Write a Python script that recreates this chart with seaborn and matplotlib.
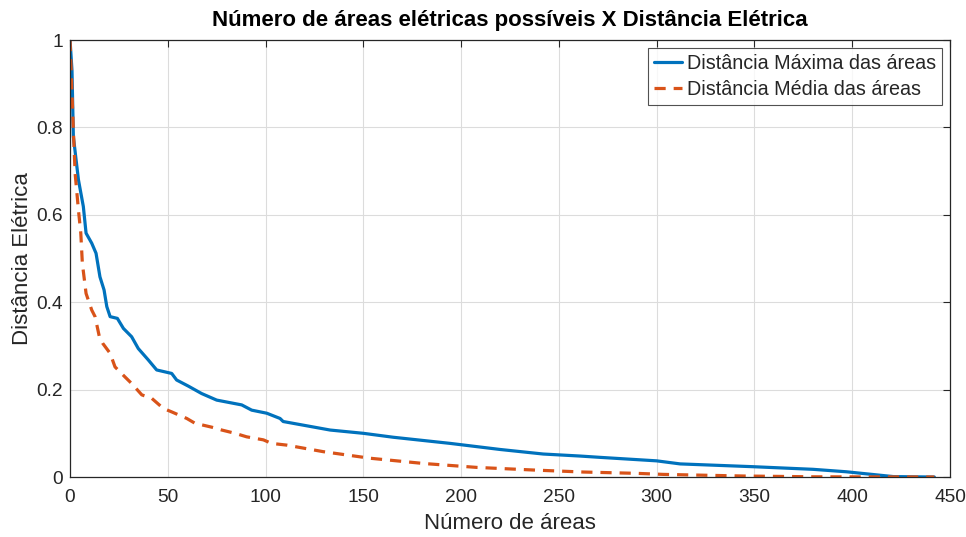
import matplotlib
matplotlib.use("Agg")
import matplotlib.pyplot as plt
import seaborn as sns
import pandas as pd

# Distância Máxima das áreas
x_max = [0, 1, 1.7, 4.3, 6.8, 8.2, 11.1, 13.3, 15.3, 17.4, 18.8, 20.5, 24.2, 27.3, 31.5,
         34.9, 40, 44.3, 52, 54.5, 60.5, 67.3, 75, 87.8, 92.9, 100.6, 107.4, 109, 133,
         150, 165.3, 194.3, 220, 242, 260.8, 271, 300, 312, 349.4, 380, 397, 421, 442]
y_max = [1.0, 0.93, 0.779, 0.68, 0.619, 0.558, 0.535, 0.512, 0.458, 0.428, 0.39, 0.367,
         0.363, 0.34, 0.321, 0.294, 0.268, 0.245, 0.237, 0.222, 0.208, 0.191, 0.176, 0.165,
         0.153, 0.146, 0.134, 0.127, 0.1075, 0.1, 0.091, 0.077, 0.063, 0.0526, 0.048, 0.045,
         0.037, 0.030, 0.0236, 0.0176, 0.012, 0.001, 0.0]

# Distância Média das áreas
x_med = [0, 1.7, 2.6, 4.3, 5.5, 6.3, 8.2, 11.1, 12.8, 15, 16.7, 20.5, 23, 28.1, 31.5, 36.7,
         41.8, 47.7, 52, 59.7, 63.9, 72.5, 77.6, 84.4, 90.3, 98.9, 103, 110.8, 129.5, 153.4,
         180.7, 208, 237, 262.5, 289.8, 303.4, 344.3, 380, 442]
y_med = [1.0, 0.794, 0.695, 0.611, 0.558, 0.489, 0.42, 0.382, 0.367, 0.321, 0.306, 0.283,
         0.252, 0.229, 0.214, 0.188, 0.18, 0.157, 0.149, 0.134, 0.123, 0.114, 0.1075, 0.1,
         0.092, 0.085, 0.077, 0.073, 0.058, 0.043, 0.031, 0.022, 0.016, 0.0114, 0.0084,
         0.006, 0.0023, 0.0005, 0.0]

x_ticks = [0, 50, 100, 150, 200, 250, 300, 350, 400, 450]
y_ticks = [0, 0.2, 0.4, 0.6, 0.8, 1]
y_tick_labels = ["0", "0.2", "0.4", "0.6", "0.8", "1"]

sns.set_theme(style="white")
plt.rcParams['font.family'] = ['Liberation Sans', 'DejaVu Sans']

fig = plt.figure(figsize=(9.66, 5.37), dpi=100)
ax = fig.add_axes([0.0725, 0.1117, 0.9109, 0.8138])

df_max = pd.DataFrame({"x": x_max, "y": y_max})
df_med = pd.DataFrame({"x": x_med, "y": y_med})
sns.lineplot(data=df_max, x="x", y="y", ax=ax, color="#0072BD", linewidth=2.3,
             label="Distância Máxima das áreas", sort=False, estimator=None)
sns.lineplot(data=df_med, x="x", y="y", ax=ax, color="#D95319", linewidth=2.3,
             linestyle=(0, (3.5, 2.5)), label="Distância Média das áreas", sort=False,
             estimator=None)

ax.set_xlim(0, 450)
ax.set_ylim(0, 1)
ax.set_xticks(x_ticks)
ax.set_yticks(y_ticks)
ax.set_yticklabels(y_tick_labels)
ax.grid(True, color="#DCDCDC", linewidth=0.8)
ax.set_axisbelow(True)
for s in ax.spines.values():
    s.set_color("#262626")
    s.set_linewidth(0.9)
ax.tick_params(direction="in", top=True, right=True, length=5, width=0.8,
               colors="#262626", labelsize=13.8)
ax.tick_params(axis="x", pad=8.5)
ax.tick_params(axis="y", pad=5)
ax.set_xlabel("Número de áreas", fontsize=16, color="#262626", labelpad=5)
ax.set_ylabel("Distância Elétrica", fontsize=16, color="#262626", labelpad=2.5)
ax.set_title("Número de áreas elétricas possíveis X Distância Elétrica",
             fontsize=16, fontweight="bold", color="black", pad=10)

leg = ax.legend(loc="upper right", fontsize=14.2, frameon=True, fancybox=False,
                edgecolor="#262626", handlelength=1.4, handletextpad=0.25,
                borderpad=0.32, labelspacing=0.35, borderaxespad=0.4)
leg.get_frame().set_linewidth(0.8)
for t in leg.get_texts():
    t.set_color("#262626")

fig.savefig("out.png", dpi=100)
